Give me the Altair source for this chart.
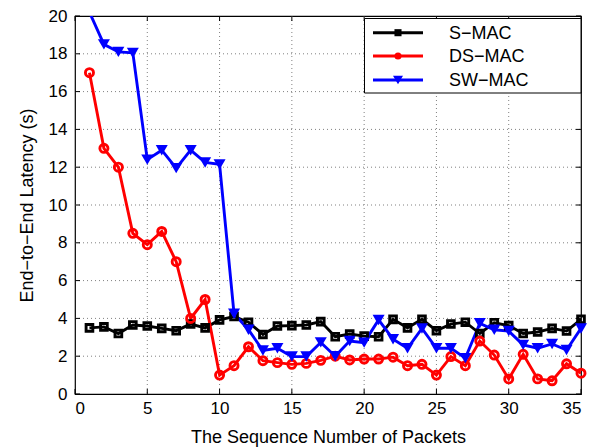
import altair as alt
import pandas as pd

packets = list(range(1, 36))
s_mac = [3.5, 3.55, 3.2, 3.65, 3.6, 3.47, 3.35, 3.7, 3.5, 3.92, 4.1, 3.8, 3.15, 3.6, 3.62, 3.65, 3.83, 3.03,
         3.17, 3.06, 3.03, 3.95, 3.5, 3.95, 3.35, 3.7, 3.8, 3.2, 3.77, 3.62, 3.2, 3.28, 3.47, 3.33, 3.95]
ds_mac = [17.0, 13.0, 12.0, 8.5, 7.9, 8.6, 7.0, 4.0, 5.0, 1.0, 1.5, 2.5, 1.76, 1.66, 1.57, 1.62, 1.78, 2.0,
          1.8, 1.85, 1.85, 1.95, 1.5, 1.57, 1.0, 1.98, 1.5, 2.8, 2.06, 0.8, 2.1, 0.8, 0.7, 1.6, 1.1]
sw_mac = [20.2, 18.5, 18.1, 18.05, 12.4, 12.9, 11.95, 12.9, 12.25, 12.15, 4.25, 3.4, 2.3, 2.42, 1.98, 1.98, 2.73, 2.0,
          2.8, 2.72, 3.92, 2.9, 2.42, 3.47, 2.42, 2.42, 1.9, 3.74, 3.4, 3.33, 2.6, 2.42, 2.65, 2.33, 3.47]

x_ticks = list(range(0, 36, 5))
y_ticks = list(range(0, 21, 2))

series_names = ["S\u2212MAC", "DS\u2212MAC", "SW\u2212MAC"]
series_values = [s_mac, ds_mac, sw_mac]
colors = ["#000000", "#ff0000", "#0000ff"]
shapes = ["square", "circle", "triangle-down"]

rows = []
for name, vals in zip(series_names, series_values):
    for p, v in zip(packets, vals):
        rows.append({"packet": p, "latency": v, "series": name})
df = pd.DataFrame(rows)
xt_df = pd.DataFrame({"packet": x_ticks})
yt_df = pd.DataFrame({"latency": y_ticks})

FONT = "Liberation Sans"
W, H = 506, 378

x_scale = alt.Scale(domain=[0, 35], nice=False)
y_scale = alt.Scale(domain=[0, 20], nice=False)
x_enc = alt.X("packet:Q", scale=x_scale,
              axis=alt.Axis(values=x_ticks, title="The Sequence Number of Packets",
                            grid=False, ticks=False, labelPadding=6, titlePadding=12,
                            labelOverlap=False))
y_enc = alt.Y("latency:Q", scale=y_scale,
              axis=alt.Axis(values=y_ticks, title="End\u2212to\u2212End Latency (s)",
                            grid=False, ticks=False, labelPadding=8, titlePadding=12,
                            labelOverlap=False))
color_enc = alt.Color("series:N", scale=alt.Scale(domain=series_names, range=colors), legend=None)

GRID = dict(color="#808080", strokeWidth=1, strokeDash=[1, 3])
xgrid = alt.Chart(xt_df).transform_filter("datum.packet > 0 && datum.packet < 35").mark_rule(**GRID).encode(
    x=x_enc, y=alt.value(0), y2=alt.value(H))
ygrid = alt.Chart(yt_df).transform_filter("datum.latency > 0 && datum.latency < 20").mark_rule(**GRID).encode(
    y=y_enc, x=alt.value(0), x2=alt.value(W))
TICK = dict(color="black", strokeWidth=1)
xtick_b = alt.Chart(xt_df).mark_rule(**TICK).encode(x=x_enc, y=alt.value(H), y2=alt.value(H - 5))
xtick_t = alt.Chart(xt_df).mark_rule(**TICK).encode(x=x_enc, y=alt.value(0), y2=alt.value(5))
ytick_l = alt.Chart(yt_df).mark_rule(**TICK).encode(y=y_enc, x=alt.value(0), x2=alt.value(5))
ytick_r = alt.Chart(yt_df).mark_rule(**TICK).encode(y=y_enc, x=alt.value(W), x2=alt.value(W - 5))

base = alt.Chart(df)
lines = base.mark_line(strokeWidth=2.9, clip=True).encode(x=x_enc, y=y_enc, color=color_enc,
                                                            detail="series:N")

p1 = base.transform_filter(alt.datum.series == series_names[0]).mark_point(
    shape="square", filled=False, size=45, strokeWidth=2.9, opacity=1).encode(
    x=x_enc, y=y_enc, color=color_enc)
p2 = base.transform_filter(alt.datum.series == series_names[1]).mark_point(
    shape="circle", filled=False, size=65, strokeWidth=2.9, opacity=1).encode(
    x=x_enc, y=y_enc, color=color_enc)
p3 = base.transform_filter((alt.datum.series == series_names[2]) & (alt.datum.latency <= 20)).mark_point(
    shape="triangle-down", filled=True, size=145, opacity=1).encode(
    x=x_enc, y=y_enc, color=color_enc)

one = pd.DataFrame({"k": [0]})
legend_layers = [
    alt.Chart(one).mark_rect(fill="white", stroke="black", strokeWidth=1).encode(
        x=alt.value(289.5), x2=alt.value(506), y=alt.value(2.5), y2=alt.value(77))
]
row_y = [16.7, 40, 64]
leg_sizes = [50, 50, 100]
for name, col, shp, yy, sz in zip(series_names, colors, shapes, row_y, leg_sizes):
    legend_layers.append(alt.Chart(one).mark_rule(color=col, strokeWidth=2.9).encode(
        x=alt.value(298), x2=alt.value(348), y=alt.value(yy)))
    legend_layers.append(alt.Chart(one).mark_point(shape=shp, filled=True, size=sz, color=col, opacity=1).encode(
        x=alt.value(323), y=alt.value(yy)))
    legend_layers.append(alt.Chart(one).mark_text(text=name, align="left", baseline="middle", font=FONT,
                                                  fontSize=18, color="black").encode(
        x=alt.value(374), y=alt.value(yy + 1)))

chart = alt.layer(xgrid, ygrid, xtick_b, xtick_t, ytick_l, ytick_r,
                  lines, p1, p2, p3, *legend_layers).properties(
    width=W, height=H,
    background="white",
    autosize=alt.AutoSizeParams(type="none"),
    padding={"left": 67, "top": 8, "right": 8, "bottom": 54},
).configure_view(stroke="black", strokeWidth=1.2).configure_axis(
    domain=False,
    labelFont=FONT, labelFontSize=17, labelColor="black",
    titleFont=FONT, titleFontSize=18, titleColor="black", titleFontWeight="normal",
)

chart.save("out.html", embed_options={"renderer": "svg", "actions": False})
